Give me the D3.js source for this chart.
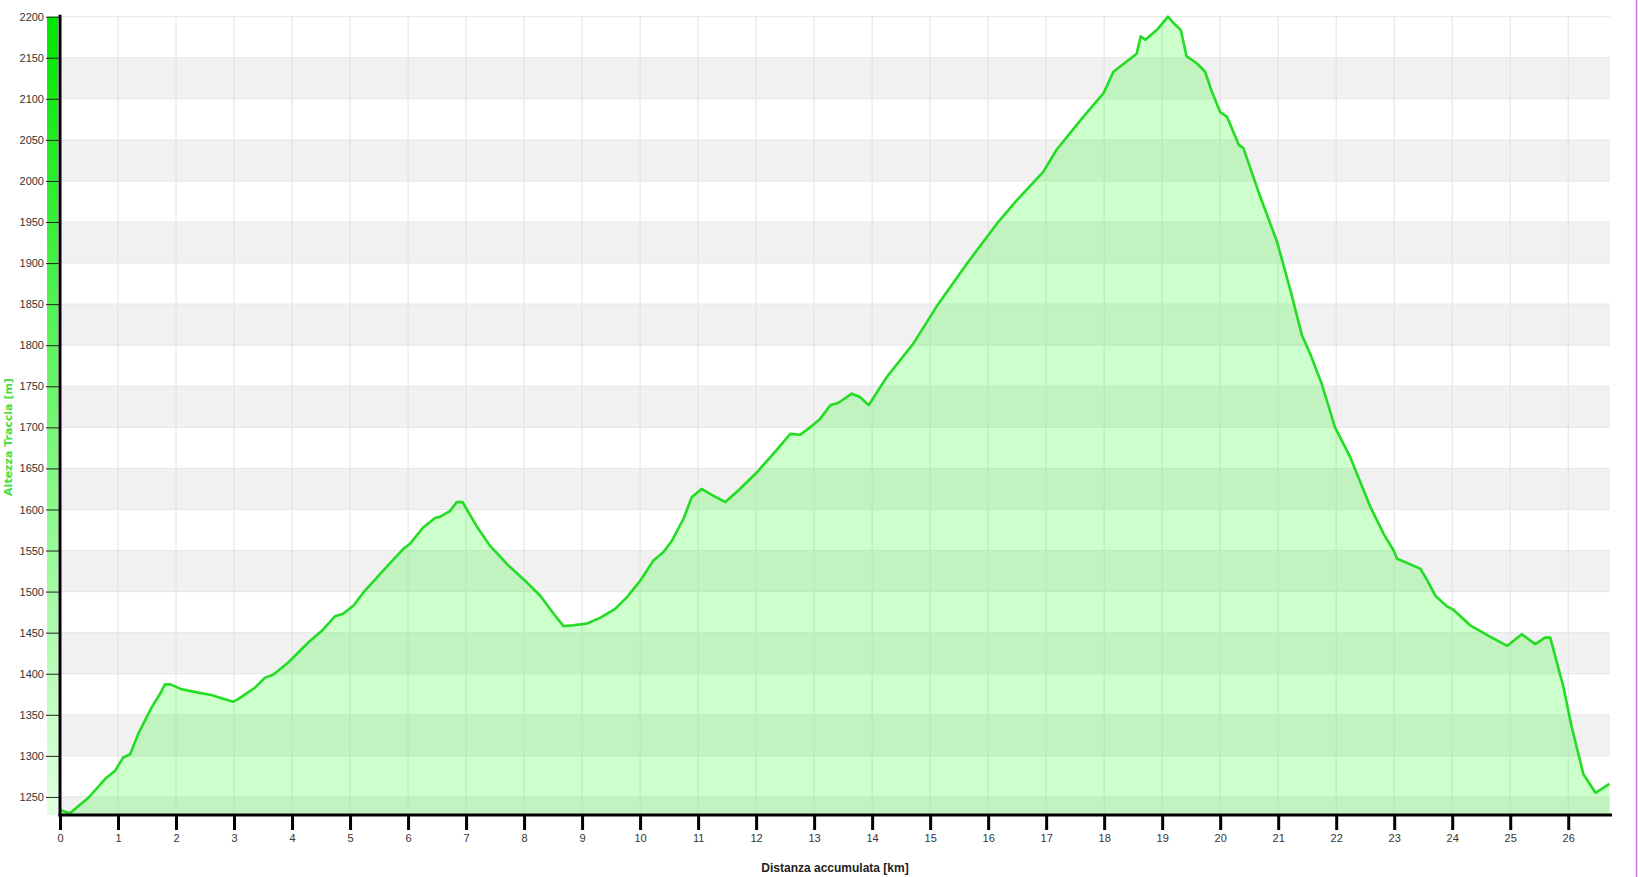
<!DOCTYPE html>
<html>
<head>
<meta charset="utf-8">
<title>Altimetria</title>
<script src="https://cdn.jsdelivr.net/npm/d3@7"></script>
<style>
  body { margin: 0; background: #fff; }
  svg { display: block; }
</style>
</head>
<body>
<div id="chart"></div>
<script>
// distance along the track [km]
var distKm = [0,0.17,0.49,0.78,0.95,1.09,1.21,1.35,1.58,1.72,
  1.81,1.90,2.10,2.38,2.61,2.84,2.99,3.07,3.36,3.53,
  3.68,3.94,4.28,4.51,4.74,4.88,5.06,5.23,5.63,5.92,
  6.03,6.26,6.47,6.55,6.72,6.84,6.94,7.18,7.41,7.70,
  8.05,8.28,8.51,8.68,8.85,9.08,9.31,9.57,9.77,10.0,
  10.23,10.40,10.55,10.75,10.89,11.06,11.26,11.47,11.72,12.01,
  12.30,12.59,12.76,12.93,13.10,13.28,13.42,13.65,13.79,13.94,
  14.25,14.71,15.11,15.63,16.15,16.50,16.95,17.18,17.64,17.99,
  18.16,18.56,18.63,18.71,18.91,19.10,19.20,19.32,19.42,19.60,
  19.74,19.85,20.00,20.12,20.32,20.40,20.69,20.98,21.21,21.41,
  21.55,21.75,21.98,22.24,22.59,22.82,22.99,23.05,23.45,23.56,
  23.71,23.91,24.02,24.31,24.66,24.95,25.20,25.43,25.60,25.69,
  25.92,26.06,26.26,26.47,26.71];

// elevation [m]
var elevM = [1234,1230,1249,1272,1282,1298,1302,1327,1359,1375,
  1387,1387,1381,1377,1374,1369,1366,1369,1383,1395,
  1399,1414,1438,1452,1470,1473,1483,1499,1530,1552,
  1558,1578,1590,1591,1598,1609,1609,1580,1556,1534,
  1511,1495,1473,1458,1459,1461,1468,1479,1493,1513,
  1538,1548,1562,1589,1615,1625,1617,1609,1625,1645,
  1668,1692,1691,1700,1710,1727,1730,1741,1737,1727,
  1761,1802,1847,1899,1948,1977,2011,2038,2078,2107,
  2133,2155,2176,2172,2184,2200,2192,2184,2152,2143,
  2133,2110,2084,2078,2044,2040,1981,1926,1867,1812,
  1790,1753,1700,1664,1603,1570,1550,1540,1528,1515,
  1495,1482,1478,1459,1445,1434,1448,1436,1444,1444,
  1383,1335,1278,1255,1266];

// axis ticks
var xTicks = d3.range(0, 27);           // 0 .. 26 km
var yTicks = d3.range(1250, 2201, 50);  // 1250 .. 2200 m

var xMax = 26.72;
var yMin = 1228;
var yMax = 2200;

var width = 1638;
var height = 877;
var plot = {left: 60, right: 1610, top: 16.7, bottom: 815};

var data = distKm.map(function(d, i) { return {km: d, m: elevM[i]}; });

var x = d3.scaleLinear().domain([0, xMax]).range([plot.left, plot.right]);
var y = d3.scaleLinear().domain([yMin, yMax]).range([plot.bottom, plot.top]);

var svg = d3.select("#chart").append("svg")
    .attr("width", width)
    .attr("height", height);

// gradient for the little green bar next to the y axis
var defs = svg.append("defs");
var grad = defs.append("linearGradient")
    .attr("id", "barGrad")
    .attr("x1", 0).attr("y1", 0).attr("x2", 0).attr("y2", 1);
grad.append("stop").attr("offset", "0%").attr("stop-color", "#00e600");
grad.append("stop").attr("offset", "55%").attr("stop-color", "#7cf87c");
grad.append("stop").attr("offset", "100%").attr("stop-color", "#e2ffe2");

// alternating grey bands (every other 50 m)
var bandStarts = d3.range(1200, 2200, 100);
svg.append("g").selectAll("rect")
    .data(bandStarts)
  .enter().append("rect")
    .attr("x", plot.left)
    .attr("y", function(d) { return y(Math.min(d + 50, yMax)); })
    .attr("width", plot.right - plot.left)
    .attr("height", function(d) { return y(Math.max(d, yMin)) - y(Math.min(d + 50, yMax)); })
    .attr("fill", "#f1f1f1");

// horizontal grid lines
svg.append("g").selectAll("line")
    .data(yTicks)
  .enter().append("line")
    .attr("x1", plot.left).attr("x2", plot.right)
    .attr("y1", function(d) { return y(d); })
    .attr("y2", function(d) { return y(d); })
    .attr("stroke", "#e6e6e6")
    .attr("stroke-width", 1);

// vertical grid lines
svg.append("g").selectAll("line")
    .data(xTicks)
  .enter().append("line")
    .attr("x1", function(d) { return x(d); })
    .attr("x2", function(d) { return x(d); })
    .attr("y1", plot.top).attr("y2", plot.bottom)
    .attr("stroke", "#e2e2e2")
    .attr("stroke-width", 1);

// profile area + line
var area = d3.area()
    .x(function(d) { return x(d.km); })
    .y0(plot.bottom)
    .y1(function(d) { return y(d.m); });

var line = d3.line()
    .x(function(d) { return x(d.km); })
    .y(function(d) { return y(d.m); });

svg.append("path")
    .datum(data)
    .attr("d", area)
    .attr("fill", "rgba(0,255,0,0.2)");

svg.append("path")
    .datum(data)
    .attr("d", line)
    .attr("fill", "none")
    .attr("stroke", "#22dd22")
    .attr("stroke-width", 2.6)
    .attr("stroke-linejoin", "round");

// green bar left of the axis
svg.append("rect")
    .attr("x", 47)
    .attr("y", plot.top)
    .attr("width", 11)
    .attr("height", plot.bottom - plot.top)
    .attr("fill", "url(#barGrad)");

// y axis
var yAxis = svg.append("g")
    .attr("transform", "translate(" + (plot.left - 1) + ",0)")
    .call(d3.axisLeft(y).tickValues(yTicks).tickSize(13).tickPadding(2).tickFormat(d3.format("d")));
yAxis.select(".domain").remove();
yAxis.selectAll(".tick line").attr("stroke", "#222").attr("stroke-width", 1);
yAxis.selectAll(".tick text")
    .attr("font-family", "Liberation Sans, Arial, sans-serif")
    .attr("font-size", 11)
    .attr("fill", "#333");

// x axis
var xAxis = svg.append("g")
    .attr("transform", "translate(0," + plot.bottom + ")")
    .call(d3.axisBottom(x).tickValues(xTicks).tickSize(15).tickPadding(4).tickFormat(d3.format("d")));
xAxis.select(".domain").remove();
xAxis.selectAll(".tick line").attr("stroke", "#000").attr("stroke-width", 3);
xAxis.selectAll(".tick text")
    .attr("font-family", "Liberation Sans, Arial, sans-serif")
    .attr("font-size", 11)
    .attr("fill", "#333");

// thick axis lines
svg.append("line")
    .attr("x1", plot.left).attr("x2", plot.left)
    .attr("y1", plot.top - 2).attr("y2", plot.bottom + 1.5)
    .attr("stroke", "#000").attr("stroke-width", 3);
svg.append("line")
    .attr("x1", plot.left - 1.5).attr("x2", plot.right + 2)
    .attr("y1", plot.bottom).attr("y2", plot.bottom)
    .attr("stroke", "#000").attr("stroke-width", 3);

// axis titles
svg.append("text")
    .attr("x", (plot.left + plot.right) / 2)
    .attr("y", 872)
    .attr("text-anchor", "middle")
    .attr("font-family", "Liberation Sans, Arial, sans-serif")
    .attr("font-size", 12)
    .attr("font-weight", "bold")
    .attr("fill", "#222")
    .text("Distanza accumulata [km]");

svg.append("text")
    .attr("transform", "translate(12,437) rotate(-90)")
    .attr("text-anchor", "middle")
    .attr("font-family", "DejaVu Sans, Verdana, sans-serif")
    .attr("font-size", 11)
    .attr("font-weight", "bold")
    .attr("fill", "#44dd44")
    .text("Altezza Traccia [m]");

// magenta frame edge on the right
svg.append("line")
    .attr("x1", 1636.5).attr("x2", 1636.5)
    .attr("y1", 0).attr("y2", height)
    .attr("stroke", "#d36ee6").attr("stroke-width", 1.5);
</script>
</body>
</html>
